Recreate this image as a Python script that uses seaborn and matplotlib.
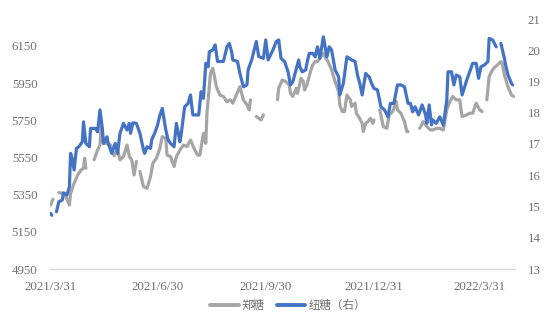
import numpy as np
import pandas as pd
import matplotlib
matplotlib.use("Agg")
import matplotlib.pyplot as plt
import matplotlib.dates as mdates
from matplotlib.lines import Line2D
import seaborn as sns

# ---- data ----
zz_dates = ["2021-03-31","2021-04-01","2021-04-02","2021-04-05","2021-04-07","2021-04-10","2021-04-13","2021-04-16",
            "2021-04-17","2021-04-20","2021-04-23","2021-04-26","2021-04-28","2021-04-29","2021-04-30","2021-05-03",
            "2021-05-07","2021-05-10","2021-05-12","2021-05-13","2021-05-15","2021-05-18","2021-05-21","2021-05-24",
            "2021-05-27","2021-05-29","2021-06-01","2021-06-04","2021-06-06","2021-06-08","2021-06-10","2021-06-12",
            "2021-06-14","2021-06-15","2021-06-18","2021-06-21","2021-06-24","2021-06-26","2021-06-29","2021-07-02",
            "2021-07-04","2021-07-07","2021-07-08","2021-07-11","2021-07-14","2021-07-16","2021-07-19","2021-07-22",
            "2021-07-25","2021-07-28","2021-07-31","2021-08-03","2021-08-05","2021-08-08","2021-08-10","2021-08-11",
            "2021-08-14","2021-08-16","2021-08-19","2021-08-22","2021-08-25","2021-08-28","2021-08-31","2021-09-02",
            "2021-09-05","2021-09-08","2021-09-11","2021-09-14","2021-09-16","2021-09-17","2021-09-20","2021-09-22",
            "2021-09-26","2021-09-28","2021-10-02","2021-10-10","2021-10-11","2021-10-14","2021-10-17","2021-10-20",
            "2021-10-21","2021-10-23","2021-10-26","2021-10-27","2021-10-30","2021-11-01","2021-11-02","2021-11-04",
            "2021-11-07","2021-11-09","2021-11-11","2021-11-13","2021-11-15","2021-11-18","2021-11-20","2021-11-22",
            "2021-11-25","2021-11-28","2021-12-01","2021-12-02","2021-12-04","2021-12-06","2021-12-08","2021-12-11",
            "2021-12-12","2021-12-15","2021-12-16","2021-12-18","2021-12-21","2021-12-22","2021-12-24","2021-12-26",
            "2021-12-28","2021-12-30","2021-12-31","2022-01-03","2022-01-05","2022-01-08","2022-01-11","2022-01-13",
            "2022-01-16","2022-01-19","2022-01-20","2022-01-23","2022-01-26","2022-01-28","2022-01-29","2022-02-02",
            "2022-02-08","2022-02-11","2022-02-14","2022-02-17","2022-02-19","2022-02-22","2022-02-25","2022-02-28",
            "2022-03-03","2022-03-05","2022-03-08","2022-03-11","2022-03-14","2022-03-16","2022-03-20","2022-03-22",
            "2022-03-25","2022-03-28","2022-03-31","2022-04-02","2022-04-04","2022-04-06","2022-04-08","2022-04-10",
            "2022-04-12","2022-04-15","2022-04-18","2022-04-19","2022-04-21","2022-04-24","2022-04-27","2022-04-29"]
zz_values = [5294,5310,5325,None,5361,5357,5339,5294,
             5357,5411,5456,5483,5492,5546,5492,None,
             5537,5590,5617,5716,5626,5626,5617,5560,
             5590,5537,5555,5617,5555,5537,5456,5528,
             None,5474,5393,5384,5447,5519,5546,5599,
             5662,5653,5563,5555,5501,5555,5590,5617,
             5608,5644,5599,5563,5563,5680,5626,5788,
             6003,6030,5931,5886,5878,5850,5860,5842,
             5886,5931,5860,5833,5806,5860,None,5770,
             5752,5779,None,5860,5922,5967,5958,5940,
             5895,5878,5922,5895,5976,5958,5913,5940,
             6012,6048,6066,6066,6084,6110,6084,6066,
             6021,5958,5904,5833,5797,5797,5886,5860,
             5824,5842,5788,5770,5734,5689,5734,5743,
             5761,5734,5752,None,5806,5716,5707,5779,
             5797,5851,5806,5788,5743,5689,5689,None,
             5707,5743,5716,5698,5698,5707,5707,5698,
             5806,5842,5878,5860,5860,5770,5779,5788,
             5788,5842,5806,5797,None,5860,5985,6012,
             6030,6048,6066,6057,5994,5931,5886,5878]

ny_dates = ["2021-03-31","2021-04-01","2021-04-02","2021-04-05","2021-04-07","2021-04-10","2021-04-11","2021-04-14",
            "2021-04-16","2021-04-17","2021-04-18","2021-04-20","2021-04-22","2021-04-24","2021-04-27","2021-04-28",
            "2021-04-30","2021-05-03","2021-05-04","2021-05-08","2021-05-10","2021-05-12","2021-05-14","2021-05-15",
            "2021-05-18","2021-05-19","2021-05-22","2021-05-25","2021-05-27","2021-05-29","2021-06-01","2021-06-04",
            "2021-06-06","2021-06-07","2021-06-09","2021-06-12","2021-06-15","2021-06-18","2021-06-19","2021-06-21",
            "2021-06-24","2021-06-25","2021-06-28","2021-06-30","2021-07-02","2021-07-04","2021-07-07","2021-07-09",
            "2021-07-11","2021-07-14","2021-07-16","2021-07-19","2021-07-20","2021-07-23","2021-07-26","2021-07-28",
            "2021-07-30","2021-08-04","2021-08-06","2021-08-08","2021-08-10","2021-08-12","2021-08-13","2021-08-16",
            "2021-08-18","2021-08-20","2021-08-25","2021-08-28","2021-08-30","2021-09-01","2021-09-02","2021-09-06",
            "2021-09-08","2021-09-11","2021-09-14","2021-09-15","2021-09-18","2021-09-22","2021-09-24","2021-09-28",
            "2021-09-30","2021-10-02","2021-10-06","2021-10-09","2021-10-11","2021-10-13","2021-10-16","2021-10-19",
            "2021-10-21","2021-10-23","2021-10-28","2021-10-29","2021-10-31","2021-11-03","2021-11-04","2021-11-06",
            "2021-11-09","2021-11-11","2021-11-13","2021-11-15","2021-11-18","2021-11-20","2021-11-21","2021-11-23",
            "2021-11-25","2021-11-28","2021-12-01","2021-12-02","2021-12-05","2021-12-08","2021-12-12","2021-12-15",
            "2021-12-17","2021-12-19","2021-12-21","2021-12-24","2021-12-25","2021-12-27","2021-12-29","2021-12-31",
            "2022-01-03","2022-01-06","2022-01-09","2022-01-12","2022-01-14","2022-01-17","2022-01-20","2022-01-23",
            "2022-01-26","2022-01-29","2022-01-31","2022-02-02","2022-02-04","2022-02-07","2022-02-10","2022-02-13",
            "2022-02-14","2022-02-16","2022-02-18","2022-02-19","2022-02-22","2022-02-25","2022-02-28","2022-03-03",
            "2022-03-04","2022-03-07","2022-03-09","2022-03-11","2022-03-14","2022-03-16","2022-03-20","2022-03-22",
            "2022-03-25","2022-03-28","2022-03-30","2022-04-01","2022-04-04","2022-04-07","2022-04-08","2022-04-11",
            "2022-04-14","2022-04-15","2022-04-18","2022-04-21","2022-04-22","2022-04-24","2022-04-27","2022-04-28"]
ny_values = [14.78,14.72,None,14.83,15.15,15.21,15.44,15.37,
             15.63,16.70,16.59,16.17,16.86,16.91,17.07,17.71,
             17.02,16.91,17.50,17.50,17.39,18.09,17.50,17.02,
             17.23,17.02,16.70,17.02,16.70,17.34,17.66,17.45,
             17.66,17.34,17.68,17.66,17.34,16.81,16.70,16.91,
             16.86,17.13,17.39,17.61,17.93,18.14,17.45,17.13,
             17.02,16.91,17.66,17.07,17.29,18.19,18.30,18.57,
             17.93,17.93,18.67,18.46,19.58,19.47,19.95,20.01,
             20.17,19.64,19.64,20.11,20.22,19.95,19.69,19.64,
             19.26,18.83,18.89,19.37,19.69,20.28,19.80,19.74,
             20.33,19.69,20.00,20.28,20.33,19.74,19.64,19.31,
             18.89,18.99,19.69,19.47,19.31,19.37,19.58,19.90,
             19.90,19.79,20.11,19.74,20.43,20.01,19.79,20.11,
             20.01,19.37,19.15,18.57,18.94,19.79,19.69,19.64,
             19.21,18.94,18.57,19.26,19.21,19.15,18.94,18.78,
             18.73,18.19,18.09,17.87,18.30,18.30,18.89,18.89,
             18.83,18.30,18.30,18.03,18.19,17.93,18.25,17.93,
             17.66,18.25,17.61,17.77,17.66,17.87,17.61,18.41,
             19.31,19.31,18.89,19.21,19.15,18.57,19.05,19.26,
             19.58,19.58,19.10,19.47,19.53,19.64,20.38,20.33,
             20.11,None,20.22,19.74,19.53,19.21,18.94,18.89]

left_ticks = [4950, 5150, 5350, 5550, 5750, 5950, 6150]
right_ticks = [13, 14, 15, 16, 17, 18, 19, 20, 21]
x_tick_dates = ["2021-03-31", "2021-06-30", "2021-09-30", "2021-12-31", "2022-03-31"]
x_tick_labels = ["2021/3/31", "2021/6/30", "2021/9/30", "2021/12/31", "2022/3/31"]
series_names = ["郑糖", "纽糖（右）"]
colors = ["#A5A5A5", "#4472C4"]

# ---- style ----
sns.set_style("white")
plt.rcParams["font.family"] = ["Liberation Serif", "Noto Sans CJK SC"]
TXT = "#707070"


def make_df(dates, values):
    df = pd.DataFrame({"date": pd.to_datetime(dates),
                       "value": pd.Series(values, dtype="float")})
    df["seg"] = df["value"].isna().cumsum()
    return df.dropna()


zz = make_df(zz_dates, zz_values)
ny = make_df(ny_dates, ny_values)

fig = plt.figure(figsize=(5.54, 3.29), dpi=100)
ax = fig.add_axes([50 / 554, 1 - 269 / 329, 465 / 554, 250 / 329])
ax2 = ax.twinx()

sns.lineplot(data=zz, x="date", y="value", units="seg", estimator=None,
             color=colors[0], lw=2.3, ax=ax, legend=False)
sns.lineplot(data=ny, x="date", y="value", units="seg", estimator=None,
             color=colors[1], lw=2.3, ax=ax2, legend=False)

ax.set_xlim(pd.Timestamp("2021-03-30 12:00"), pd.Timestamp("2022-04-30"))
ax.set_ylim(4950, 6295)
ax2.set_ylim(13, 21)
ax.set_yticks(left_ticks)
ax2.set_yticks(right_ticks)
ax.set_xticks(pd.to_datetime(x_tick_dates))
ax.set_xticklabels(x_tick_labels)

for a in (ax, ax2):
    a.set_xlabel("")
    a.set_ylabel("")
    for s in a.spines.values():
        s.set_visible(False)
    a.grid(False)
ax.spines["bottom"].set_visible(True)
ax.spines["bottom"].set_color("#D9D9D9")
ax.spines["bottom"].set_linewidth(1.0)

ax.tick_params(axis="y", length=0, pad=9, labelsize=9.3, labelcolor=TXT)
ax.tick_params(axis="x", length=0, pad=9, labelsize=9.3, labelcolor=TXT)
ax2.tick_params(axis="y", length=0, pad=9, labelsize=9.3, labelcolor=TXT)

handles = [Line2D([], [], color=c, lw=2.8) for c in colors]
fig.legend(handles, series_names, loc="center", bbox_to_anchor=(288 / 554, 1 - 306 / 329),
           ncol=2, frameon=False, fontsize=8.3, handlelength=2.5, handletextpad=0.3,
           columnspacing=1.0, labelcolor=TXT)

fig.savefig("out.png", dpi=100)
